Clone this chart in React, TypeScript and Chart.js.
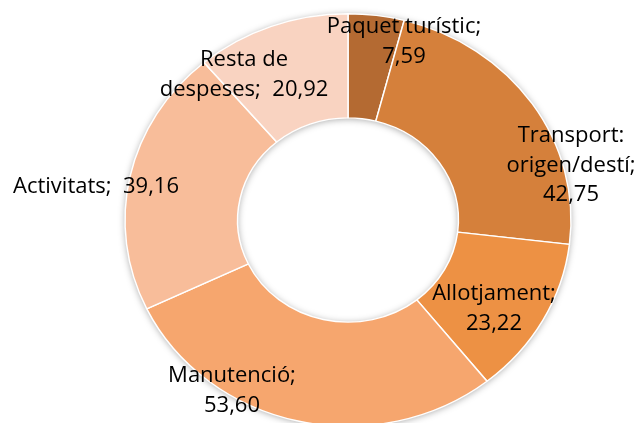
import React, { useEffect, useRef } from 'react';
import { Chart, registerables } from 'chart.js';

Chart.register(...registerables);

// ---- data ----
const categories = ['Paquet turístic', 'Transport: origen/destí', 'Allotjament', 'Manutenció', 'Activitats', 'Resta de despeses'];
const values = [7.59, 42.75, 23.22, 53.6, 39.16, 20.92];
const labelNameLines = [
  ['Paquet turístic;'],
  ['Transport:', 'origen/destí;'],
  ['Allotjament;'],
  ['Manutenció;'],
  ['Activitats;'],
  ['Resta de', 'despeses;'],
];
const valueOnOwnLine = [true, true, true, true, false, false];

// ---- styles / layout ----
const colors = ['#B46A32', '#D5803B', '#ED9144', '#F6A66E', '#F8BD9A', '#F9D3C1'];
const labelAnchors = [
  { x: 404, y: 33 },
  { x: 571, y: 142 },
  { x: 494, y: 300 },
  { x: 232, y: 382 },
  { x: 96, y: 193 },
  { x: 244, y: 66 },
];
const LINE_HEIGHT = 29.5;
const FONT = '22px "Open Sans", "Noto Sans", sans-serif';
const Y_SCALE = 0.925;

const fmt = (v: number) => v.toFixed(2).replace('.', ',');

const ellipsePlugin = {
  id: 'ellipseDoughnut',
  beforeDatasetsDraw(chart: any) {
    const ctx = chart.ctx;
    const arc = chart.getDatasetMeta(0).data[0];
    if (!arc) return;
    const cx = arc.x;
    const cy = arc.y;
    ctx.save();
    ctx.translate(cx, cy);
    ctx.scale(1, Y_SCALE);
    ctx.translate(-cx, -cy);
    // shadow ring
    ctx.save();
    ctx.shadowColor = 'rgba(0,0,0,0.35)';
    ctx.shadowBlur = 7;
    ctx.shadowOffsetX = 0;
    ctx.shadowOffsetY = 1;
    ctx.beginPath();
    ctx.arc(cx, cy, arc.outerRadius, 0, Math.PI * 2, false);
    ctx.arc(cx, cy, arc.innerRadius, 0, Math.PI * 2, true);
    ctx.closePath();
    ctx.fillStyle = '#F6A66E';
    ctx.fill();
    ctx.restore();
  },
  afterDatasetsDraw(chart: any) {
    const ctx = chart.ctx;
    ctx.restore();
    // labels
    ctx.save();
    ctx.font = FONT;
    ctx.fillStyle = '#000000';
    ctx.textAlign = 'center';
    ctx.textBaseline = 'alphabetic';
    values.forEach((v, i) => {
      const names = labelNameLines[i].slice();
      const lines = valueOnOwnLine[i]
        ? [...names, fmt(v)]
        : [...names.slice(0, -1), names[names.length - 1] + '  ' + fmt(v)];
      const a = labelAnchors[i];
      lines.forEach((t, k) => {
        ctx.fillText(t, a.x, a.y + k * LINE_HEIGHT);
      });
    });
    ctx.restore();
  },
};

export default function App() {
  const ref = useRef<HTMLCanvasElement | null>(null);
  useEffect(() => {
    if (!ref.current) return;
    const chart = new Chart(ref.current, {
      type: 'doughnut',
      data: {
        labels: categories,
        datasets: [
          {
            data: values,
            backgroundColor: colors,
            borderColor: '#FFFFFF',
            borderWidth: 1.5,
            clip: false as any,
          },
        ],
      },
      options: {
        responsive: false,
        animation: false,
        radius: 223,
        cutout: '49.5%',
        layout: { padding: { left: 57, right: 0, top: 17, bottom: 0 } },
        plugins: {
          legend: { display: false },
          tooltip: { enabled: false },
        },
      } as any,
      plugins: [ellipsePlugin],
    });
    return () => chart.destroy();
  }, []);
  return (
    <div style={{ position: 'absolute', left: 0, top: 0, width: 639, height: 423, background: '#fff' }}>
      <canvas ref={ref} width={639} height={423} style={{ display: 'block', width: 639, height: 423 }} />
    </div>
  );
}
